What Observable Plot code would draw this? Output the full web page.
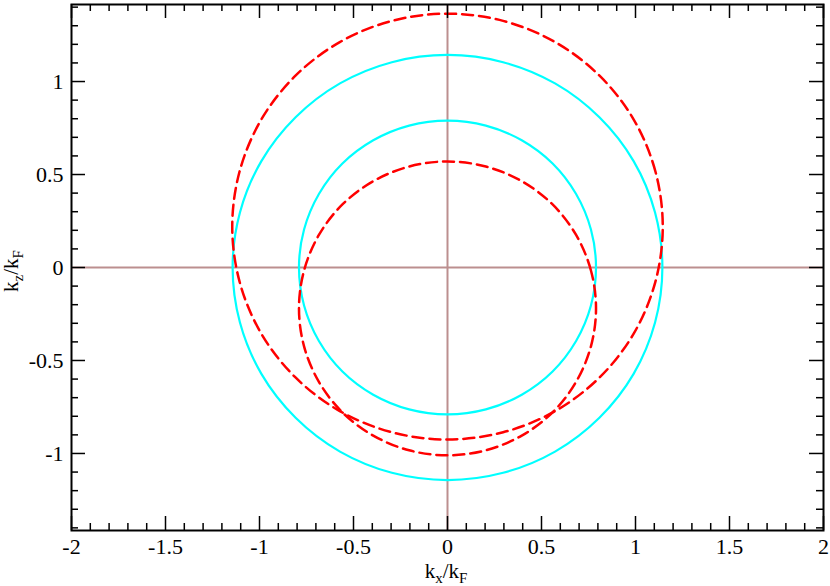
<!DOCTYPE html>
<html>
<head>
<meta charset="utf-8">
<script src="https://cdn.jsdelivr.net/npm/d3@7"></script>
<script src="https://cdn.jsdelivr.net/npm/@observablehq/plot@0.6"></script>
<style>
  html, body { margin: 0; padding: 0; background: #fff; }
  #chart { width: 830px; height: 586px; }
  #chart svg, #chart svg text { font-family: "Liberation Serif", "Times New Roman", serif !important; }
</style>
</head>
<body>
<div id="chart"></div>
<script>
// Tick labels
const xTicks = [-2, -1.5, -1, -0.5, 0, 0.5, 1, 1.5, 2];
const yTicks = [-1, -0.5, 0, 0.5, 1];

// Curves (points every 15 degrees around each contour)
const cyanOuter = [
  [1.143, 0], [1.104, 0.296], [0.990, 0.572], [0.808, 0.808], [0.572, 0.990], [0.296, 1.104],
  [0, 1.143], [-0.296, 1.104], [-0.572, 0.990], [-0.808, 0.808], [-0.990, 0.572], [-1.104, 0.296],
  [-1.143, 0], [-1.104, -0.296], [-0.990, -0.572], [-0.808, -0.808], [-0.572, -0.990], [-0.296, -1.104],
  [0, -1.143], [0.296, -1.104], [0.572, -0.990], [0.808, -0.808], [0.990, -0.572], [1.104, -0.296]
];
const cyanInner = [
  [0.790, 0], [0.763, 0.204], [0.684, 0.395], [0.559, 0.559], [0.395, 0.684], [0.204, 0.763],
  [0, 0.790], [-0.204, 0.763], [-0.395, 0.684], [-0.559, 0.559], [-0.684, 0.395], [-0.763, 0.204],
  [-0.790, 0], [-0.763, -0.204], [-0.684, -0.395], [-0.559, -0.559], [-0.395, -0.684], [-0.204, -0.763],
  [0, -0.790], [0.204, -0.763], [0.395, -0.684], [0.559, -0.559], [0.684, -0.395], [0.763, -0.204]
];
const redOuter = [
  [1.145, 0.220], [1.106, 0.516], [0.992, 0.793], [0.810, 1.030], [0.573, 1.212], [0.296, 1.326],
  [0, 1.365], [-0.296, 1.326], [-0.573, 1.212], [-0.810, 1.030], [-0.992, 0.793], [-1.106, 0.516],
  [-1.145, 0.220], [-1.106, -0.076], [-0.992, -0.353], [-0.810, -0.590], [-0.573, -0.772], [-0.296, -0.886],
  [0, -0.925], [0.296, -0.886], [0.573, -0.772], [0.810, -0.590], [0.992, -0.353], [1.106, -0.076]
];
const redInner = [
  [0.790, -0.220], [0.763, -0.016], [0.684, 0.175], [0.559, 0.339], [0.395, 0.464], [0.204, 0.543],
  [0, 0.570], [-0.204, 0.543], [-0.395, 0.464], [-0.559, 0.339], [-0.684, 0.175], [-0.763, -0.016],
  [-0.790, -0.220], [-0.763, -0.424], [-0.684, -0.615], [-0.559, -0.779], [-0.395, -0.904], [-0.204, -0.983],
  [0, -1.010], [0.204, -0.983], [0.395, -0.904], [0.559, -0.779], [0.684, -0.615], [0.763, -0.424]
];

const W = 830, H = 586;
const mL = 71, mR = 7, mT = 4, mB = 56;
const innerW = W - mL - mR, innerH = H - mT - mB;
const majorLen = 14, minorLen = 7;
const FF = "Liberation Serif, Times New Roman, serif";

const minorX = d3.range(-20, 21).map(i => i / 10).filter(v => !xTicks.includes(v));
const minorY = d3.range(-14, 15).map(i => i / 10).filter(v => !yTicks.includes(v));

const toRows = (pts, name) => pts.map(([x, y]) => ({x, y, name}));
const cyanRows = [...toRows(cyanOuter, "co"), ...toRows(cyanInner, "ci")];
const redRows = [...toRows(redOuter, "ro"), ...toRows(redInner, "ri")];

const fmt = d => String(d);

const plot = Plot.plot({
  width: W, height: H,
  marginLeft: mL, marginRight: mR, marginTop: mT, marginBottom: mB,
  style: {fontFamily: FF, fontSize: "22px", color: "#000", background: "#fff"},
  x: {domain: [-2, 2]},
  y: {domain: [-Math.SQRT2, Math.SQRT2]},
  marks: [
    // zero lines
    Plot.ruleY([0], {stroke: "#bc8f8f", strokeWidth: 2}),
    Plot.ruleX([0], {stroke: "#bc8f8f", strokeWidth: 2}),
    // curves
    Plot.line(cyanRows, {x: "x", y: "y", z: "name", curve: "catmull-rom-closed", stroke: "#00ffff", strokeWidth: 2.2}),
    Plot.line(redRows, {x: "x", y: "y", z: "name", curve: "catmull-rom-closed", stroke: "#ff0000", strokeWidth: 2.5, strokeDasharray: "11,6"}),
    // inward ticks: bottom, top, left, right
    Plot.ruleX(xTicks, {insetTop: innerH - majorLen, stroke: "#000", strokeWidth: 1.5}),
    Plot.ruleX(minorX, {insetTop: innerH - minorLen, stroke: "#000", strokeWidth: 1.5}),
    Plot.ruleX(xTicks, {insetBottom: innerH - majorLen, stroke: "#000", strokeWidth: 1.5}),
    Plot.ruleX(minorX, {insetBottom: innerH - minorLen, stroke: "#000", strokeWidth: 1.5}),
    Plot.ruleY(yTicks, {insetRight: innerW - majorLen, stroke: "#000", strokeWidth: 1.5}),
    Plot.ruleY(minorY, {insetRight: innerW - minorLen, stroke: "#000", strokeWidth: 1.5}),
    Plot.ruleY(yTicks, {insetLeft: innerW - majorLen, stroke: "#000", strokeWidth: 1.5}),
    Plot.ruleY(minorY, {insetLeft: innerW - minorLen, stroke: "#000", strokeWidth: 1.5}),
    // tick labels
    Plot.axisX(xTicks, {tickSize: 0, tickPadding: 8, tickFormat: fmt, label: null, fontSize: 22, fontFamily: FF}),
    Plot.axisY(yTicks, {tickSize: 0, tickPadding: 8, tickFormat: fmt, label: null, fontSize: 22, fontFamily: FF}),
    Plot.frame({stroke: "#000", strokeWidth: 2})
  ]
});

document.getElementById("chart").appendChild(plot);

// Axis titles with subscripts
const svg = d3.select(plot);
function addTitle(g, sub1) {
  g.append("tspan").text("k");
  g.append("tspan").attr("baseline-shift", "-35%").attr("font-size", 15).text(sub1);
  g.append("tspan").text("/k");
  g.append("tspan").attr("baseline-shift", "-35%").attr("font-size", 15).text("F");
}
const xt = svg.append("text")
  .attr("x", mL + innerW / 2 - 1).attr("y", 578)
  .attr("text-anchor", "middle").attr("font-family", FF).attr("font-size", 21).attr("fill", "#000");
addTitle(xt, "x");

const yt = svg.append("text")
  .attr("transform", `translate(18,${mT + innerH / 2 + 4}) rotate(-90)`)
  .attr("text-anchor", "middle").attr("font-family", FF).attr("font-size", 21).attr("fill", "#000");
addTitle(yt, "z");
</script>
</body>
</html>
